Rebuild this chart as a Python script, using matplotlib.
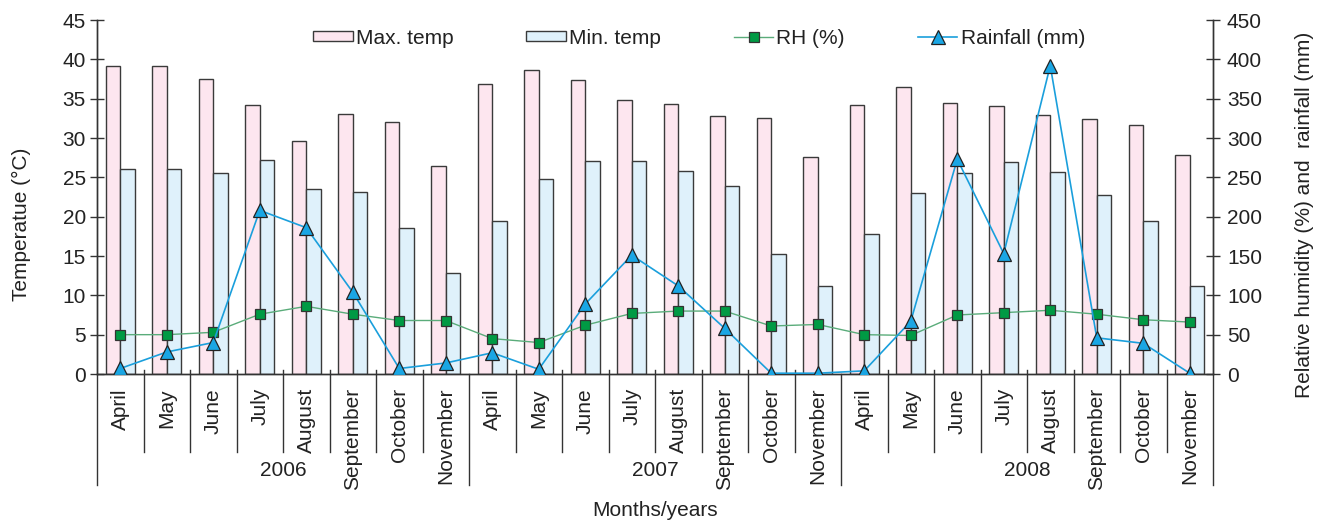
import matplotlib
matplotlib.use("Agg")
import matplotlib.pyplot as plt
from matplotlib.lines import Line2D
from matplotlib.patches import Patch
import numpy as np

plt.rcParams['font.family'] = ['Liberation Sans', 'DejaVu Sans']

months = ["April", "May", "June", "July", "August", "September", "October", "November"]
years = ["2006", "2007", "2008"]
month_labels = months * 3

max_temp = [39.1, 39.1, 37.5, 34.2, 29.6, 33.0, 32.0, 26.5,
            36.9, 38.6, 37.4, 34.8, 34.3, 32.8, 32.5, 27.6,
            34.2, 36.5, 34.4, 34.1, 32.9, 32.4, 31.7, 27.8]
min_temp = [26.1, 26.1, 25.6, 27.2, 23.5, 23.1, 18.5, 12.8,
            19.5, 24.8, 27.1, 27.1, 25.8, 23.9, 15.2, 11.2,
            17.8, 23.0, 25.6, 27.0, 25.7, 22.7, 19.4, 11.2]
rh = [50, 50, 53, 76, 86, 76, 68, 68,
      45, 40, 62, 77, 80, 80, 61, 63,
      50, 49, 75, 78, 81, 76, 69, 66]
rainfall = [7, 28, 40, 208, 186, 104, 7, 14,
            27, 6, 89, 151, 112, 58, 1, 1,
            4, 67, 273, 153, 392, 46, 39, 1]

W, H = 1317, 520
fig = plt.figure(figsize=(W / 100, H / 100), dpi=100)
L, R, T, B = 97, 1213, 20, 374
ax = fig.add_axes([L / W, 1 - B / H, (R - L) / W, (B - T) / H])
ax2 = ax.twinx()

n = len(month_labels)
x = np.arange(n) + 0.5
bw = 0.31
edge = '#3a3a3a'
ax.bar(x - bw / 2, max_temp, width=bw, color='#fde6ef', edgecolor=edge, linewidth=1.0, label='Max. temp')
ax.bar(x + bw / 2, min_temp, width=bw, color='#dff1fb', edgecolor=edge, linewidth=1.0, label='Min. temp')

ax2.plot(x, rh, color='#5aac7a', lw=1.0, marker='s', markersize=6.5,
         markerfacecolor='#009a44', markeredgecolor='#333333', markeredgewidth=0.9, label='RH (%)', zorder=3)
ax2.plot(x, rainfall, color='#1a9fdc', lw=1.2, marker='^', markersize=9.5,
         markerfacecolor='#1aa6e4', markeredgecolor='#222222', markeredgewidth=0.9, label='Rainfall (mm)', zorder=4)

ax.set_xlim(0, n)
ax.set_ylim(0, 45)
ax2.set_ylim(0, 450)
ax.set_yticks(range(0, 46, 5))
ax2.set_yticks(range(0, 451, 50))
ax.set_xticks([])
ax2.set_xticks([])

fs = 15
for a in (ax, ax2):
    a.spines['top'].set_visible(False)
    for s in a.spines.values():
        s.set_color('#333333')
        s.set_linewidth(1.0)
    a.tick_params(axis='y', direction='inout', length=10, width=1.0, color='#333333',
                  labelsize=fs, labelcolor='#222222')
ax.tick_params(axis='y', pad=3)
ax2.tick_params(axis='y', pad=5)

axw = R - L
axh = B - T
ax.set_ylabel('Temperatue (°C)', fontsize=fs, color='#222222')
ax.yaxis.set_label_coords((31 - L) / axw, (B - 224) / axh)
ax2.set_ylabel('Relative humidity (%) and  rainfall (mm)', fontsize=fs, color='#222222')
ax2.yaxis.set_label_coords((1295 - L) / axw, (B - 215) / axh)

# category axis with grouped labels
tr = ax.get_xaxis_transform()
top_tick = 4 / axh
month_bottom = -(452 - B) / axh
year_bottom = -(485 - B) / axh
for i in range(n + 1):
    if i % 8 == 0:
        ax.plot([i, i], [0, year_bottom], transform=tr, color='#333333', lw=1.0, clip_on=False)
    else:
        ax.plot([i, i], [top_tick, month_bottom], transform=tr, color='#333333', lw=1.0, clip_on=False)
for xi, lab in zip(x, month_labels):
    ax.text(xi, -(388 - B) / axh, lab, transform=tr, rotation=90, ha='center', va='top',
            fontsize=fs, color='#222222')
for j, yr in enumerate(years):
    ax.text(8 * j + 4, -(470 - B) / axh, yr, transform=tr, ha='center', va='center',
            fontsize=fs, color='#222222')
fig.text((L + R) / 2 / W, 1 - 510 / H, 'Months/years', ha='center', va='center', fontsize=fs, color='#222222')

handles = [
    Patch(facecolor='#fde6ef', edgecolor=edge, linewidth=1.0),
    Patch(facecolor='#dff1fb', edgecolor=edge, linewidth=1.0),
    Line2D([], [], color='#5aac7a', lw=1.0, marker='s', markersize=6.5,
           markerfacecolor='#009a44', markeredgecolor='#333333', markeredgewidth=0.9),
    Line2D([], [], color='#1a9fdc', lw=1.2, marker='^', markersize=9.5,
           markerfacecolor='#1aa6e4', markeredgecolor='#222222', markeredgewidth=0.9),
]
labels = ['Max. temp', 'Min. temp', 'RH (%)', 'Rainfall (mm)']
leg = fig.legend(handles, labels, loc='center left', bbox_to_anchor=(313 / W, 1 - 38 / H),
                 ncol=4, frameon=False, fontsize=fs, handlelength=1.9, handleheight=0.4,
                 handletextpad=0.15, columnspacing=3.5, borderpad=0, borderaxespad=0)
for t in leg.get_texts():
    t.set_color('#222222')

fig.savefig('out.png', dpi=100)
